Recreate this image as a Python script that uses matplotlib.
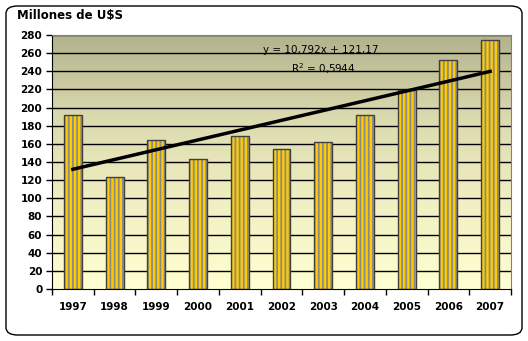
import numpy as np
import matplotlib
matplotlib.use("Agg")
import matplotlib.pyplot as plt
from matplotlib.patches import FancyBboxPatch
from matplotlib.colors import LinearSegmentedColormap

years = ['1997', '1998', '1999', '2000', '2001', '2002', '2003', '2004', '2005', '2006', '2007']
values = [192, 123, 164, 143, 169, 154, 162, 192, 219, 252, 275]
slope = 10.792
intercept = 121.17
eq_text = 'y = 10,792x + 121,17'
r2_text = 'R$^2$ = 0,5944'
yticks = list(range(0, 281, 20))

plt.rcParams['hatch.linewidth'] = 1.3
plt.rcParams['font.family'] = 'DejaVu Sans'

fig = plt.figure(figsize=(5.28, 3.41), dpi=100)
fig.patch.set_facecolor('white')

# rounded outer frame
frame = FancyBboxPatch((6 / 528, 6 / 341), 516 / 528, 329 / 341,
                       boxstyle='round,pad=0,rounding_size=0.022',
                       transform=fig.transFigure, fill=False,
                       edgecolor='black', linewidth=1.0)
fig.patches.append(frame)

ax = fig.add_axes([52 / 528, 52 / 341, 459 / 528, 254 / 341])

x = np.arange(1, len(years) + 1)
ax.set_xlim(0.5, len(years) + 0.5)
ax.set_ylim(0, 280)

# gradient background
grad = LinearSegmentedColormap.from_list('bg', ['#ffffd2', '#f2f0c2', '#dcdbb0', '#b2b28e'])
ax.imshow(np.linspace(0, 1, 256).reshape(-1, 1), cmap=grad, origin='lower',
          aspect='auto', extent=(0.5, len(years) + 0.5, 0, 280), zorder=0,
          interpolation='bilinear')

for yv in yticks[1:]:
    ax.axhline(yv, color='black', linewidth=1.0, zorder=1)

bw = 0.43
ax.bar(x, values, width=bw, color='#ffcc00', edgecolor='#8a8a8a',
       hatch='||||', linewidth=0, zorder=2)
ax.bar(x, values, width=bw, fill=False, edgecolor='#404040',
       linewidth=1.0, zorder=3)

xt = np.array([x[0], x[-1]])
ax.plot(xt, slope * xt + intercept, color='black', linewidth=2.5, zorder=4)

ax.text(6.95, 263.5, eq_text, fontsize=7.5, ha='center', va='center',
        family='Liberation Sans Narrow', zorder=5)
ax.text(7.0, 242.5, r2_text, fontsize=7.5, ha='center', va='center',
        family='Liberation Sans Narrow', zorder=5)

ax.set_yticks(yticks)
ax.set_yticklabels([str(v) for v in yticks], fontsize=7.5, fontweight='bold')
ax.set_xticks(x)
ax.set_xticklabels(years, fontsize=7.5, fontweight='bold')
ax.set_xticks(np.arange(0.5, len(years) + 1, 1), minor=True)
ax.tick_params(axis='x', which='major', length=0, pad=9)
ax.tick_params(axis='x', which='minor', length=4, direction='out', width=1)
ax.tick_params(axis='y', length=4, direction='out', width=1, pad=3)

for side in ['top', 'right']:
    ax.spines[side].set_color('#808080')
    ax.spines[side].set_linewidth(0.8)
ax.spines['left'].set_color('black')
ax.spines['bottom'].set_color('black')

fig.text(17 / 528, 1 - 16 / 341, 'Millones de U$S', fontsize=8.5, fontweight='bold',
         ha='left', va='center')

fig.savefig('out.png', dpi=100)
